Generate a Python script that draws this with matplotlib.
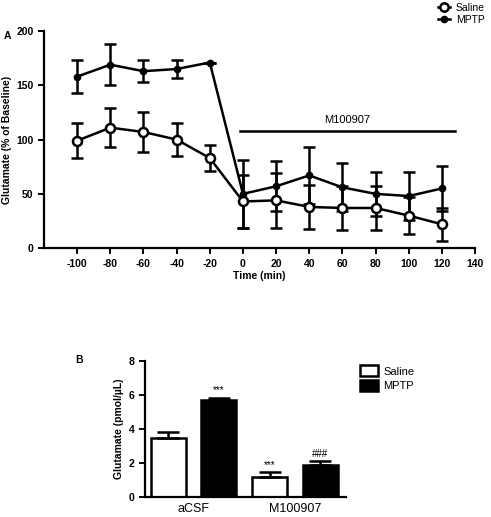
import matplotlib
matplotlib.use("Agg")
import matplotlib.pyplot as plt
from matplotlib.lines import Line2D
import numpy as np

plt.rcParams["font.family"] = ["Liberation Sans", "DejaVu Sans"]
plt.rcParams["axes.unicode_minus"] = False

# Panel A: time course
time = [-100, -80, -60, -40, -20, 0, 20, 40, 60, 80, 100, 120]
saline = [99, 111, 107, 100, 83, 43, 44, 38, 37, 37, 30, 22]
saline_err = [16, 18, 18, 15, 12, 24, 25, 20, 20, 20, 17, 15]
mptp = [158, 169, 163, 165, 171, 50, 57, 67, 56, 50, 48, 55]
mptp_err = [15, 19, 10, 8, 0, 31, 23, 26, 22, 20, 22, 21]

# Panel B: bars
groups = ["aCSF", "M100907"]
bar_saline = [3.45, 1.2]
bar_saline_err = [0.35, 0.25]
bar_mptp = [5.7, 1.9]
bar_mptp_err = [0.15, 0.2]
marks_saline = ["", "***"]
marks_mptp = ["***", "###"]

fig = plt.figure(figsize=(4.91, 5.17), dpi=100)


def style_axes(ax):
    for s in ["top", "right"]:
        ax.spines[s].set_visible(False)
    for s in ["left", "bottom"]:
        ax.spines[s].set_linewidth(1.6)
    ax.tick_params(width=1.4, length=4, labelsize=7.5)
    for lab in ax.get_xticklabels() + ax.get_yticklabels():
        lab.set_fontweight("bold")


# ---- A ----
ax1 = fig.add_axes([0.0896, 0.520, 0.878, 0.420])
ax1.errorbar(time, saline, yerr=saline_err, color="black", lw=1.8,
             marker="o", ms=6.5, mfc="white", mec="black", mew=1.8,
             capsize=4, capthick=1.8, elinewidth=1.8, zorder=3)
ax1.errorbar(time, mptp, yerr=mptp_err, color="black", lw=1.8,
             marker="o", ms=4.5, mfc="black", mec="black",
             capsize=4, capthick=1.8, elinewidth=1.8, zorder=2)
ax1.set_xlim(-120, 140)
ax1.set_ylim(0, 200)
ax1.set_xticks(np.arange(-100, 141, 20))
ax1.set_yticks([0, 50, 100, 150, 200])
ax1.plot([-2, 128], [108, 108], color="black", lw=1.8)
ax1.text(63, 113, "M100907", ha="center", va="bottom", fontsize=8)
ax1.set_xlabel("Time (min)", fontsize=7.5, fontweight="bold", labelpad=2)
ax1.set_ylabel("Glutamate (% of Baseline)", fontsize=7.5, fontweight="bold", labelpad=3)
style_axes(ax1)
handles = [
    Line2D([], [], color="black", lw=1.8, marker="o", ms=6, mfc="white", mew=1.8),
    Line2D([], [], color="black", lw=1.8, marker="o", ms=4.5, mfc="black"),
]
ax1.legend(handles, ["Saline", "MPTP"], loc="upper left",
           bbox_to_anchor=(0.905, 1.15), frameon=False,
           fontsize=7.5, handlelength=1.1, handletextpad=0.6,
           labelspacing=0.2, borderaxespad=0)
fig.text(0.008, 0.925, "A", fontsize=7.5, fontweight="bold")

# ---- B ----
ax2 = fig.add_axes([0.295, 0.0387, 0.409, 0.263])
x = np.arange(len(groups))
w = 0.345
off = 0.249
ax2.bar(x - off, bar_saline, w, yerr=[[0] * len(groups), bar_saline_err],
        color="white", edgecolor="black", linewidth=1.8, label="Saline",
        error_kw=dict(capsize=8, capthick=1.8, elinewidth=1.8))
ax2.bar(x + off, bar_mptp, w, yerr=[[0] * len(groups), bar_mptp_err],
        color="black", edgecolor="black", linewidth=1.8, label="MPTP",
        error_kw=dict(capsize=8, capthick=1.8, elinewidth=1.8))
for i in range(len(groups)):
    if marks_saline[i]:
        ax2.text(x[i] - off, bar_saline[i] + bar_saline_err[i] + 0.15,
                 marks_saline[i], ha="center", va="bottom", fontsize=7)
    if marks_mptp[i]:
        ax2.text(x[i] + off, bar_mptp[i] + bar_mptp_err[i] + 0.15,
                 marks_mptp[i], ha="center", va="bottom", fontsize=7)
ax2.set_xlim(-0.48, 1.5)
ax2.set_ylim(0, 8)
ax2.set_yticks([0, 2, 4, 6, 8])
ax2.set_xticks(x)
ax2.set_xticklabels(groups)
ax2.set_ylabel("Glutamate (pmol/\u00b5L)", fontsize=7.5, fontweight="bold", labelpad=3)
style_axes(ax2)
ax2.tick_params(axis="x", length=0, pad=4)
for lab in ax2.get_xticklabels():
    lab.set_fontweight("normal")
    lab.set_fontsize(9)
ax2.legend(loc="upper left", bbox_to_anchor=(1.05, 1.0), frameon=False,
           fontsize=8, handlelength=1.6, handleheight=1.1,
           handletextpad=0.5, labelspacing=0.3, borderaxespad=0)
fig.text(0.153, 0.298, "B", fontsize=7.5, fontweight="bold")

fig.savefig("out.png", dpi=100)
